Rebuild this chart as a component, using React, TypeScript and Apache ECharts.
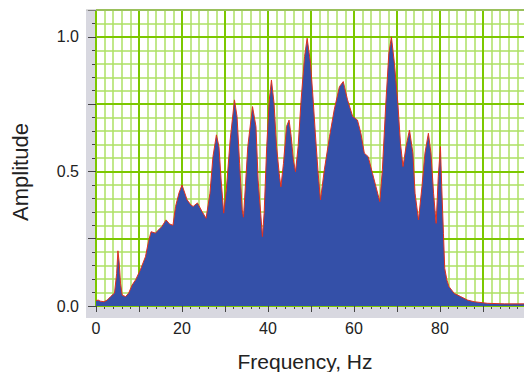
import React, { useEffect, useRef } from "react";
import * as echarts from "echarts";

const freqs = [
  0.0, 0.5, 1.0, 1.85, 2.6, 3.4, 4.3, 4.8, 5.1, 5.4, 5.7, 6.1, 6.9, 7.6, 8.4, 9.2,
  10.3, 11.5, 12.2, 12.8, 13.8, 14.5, 15.3, 16.3, 17.1, 17.9, 18.5, 19.3, 20.0,
  21.2, 22.1, 22.6, 23.6, 24.7, 25.6, 26.5, 27.2, 28.0, 28.6, 29.1, 29.7, 30.3,
  31.2, 32.2, 32.8, 33.4, 34.0, 34.3, 35.3, 36.4, 37.2, 37.7, 38.3, 38.7, 39.1,
  39.7, 40.3, 40.8, 41.4, 42.0, 42.6, 43.0, 43.6, 44.3, 44.9, 45.4, 45.9, 46.4,
  47.0, 47.7, 48.5, 49.1, 49.9, 50.5, 51.0, 51.6, 52.2, 53.1, 54.3, 55.4, 56.6,
  57.5, 58.5, 59.7, 60.8, 61.6, 62.4, 63.3, 64.3, 65.3, 66.0, 66.6, 67.4, 68.1,
  68.7, 69.4, 70.2, 70.8, 71.4, 72.1, 72.9, 73.7, 74.2, 75.0, 75.8, 76.5, 77.3,
  77.9, 78.5, 79.1, 79.6, 80.1, 80.4, 80.8, 81.1, 81.6, 82.1, 83.3, 84.8, 86.4,
  87.9, 91.0, 95.0, 100.0,
];

const amps = [
  0.02, 0.022, 0.018, 0.016, 0.022, 0.035, 0.048, 0.12, 0.205, 0.16, 0.085, 0.04,
  0.035, 0.048, 0.078, 0.097, 0.134, 0.183, 0.239, 0.276, 0.271, 0.282, 0.295,
  0.32, 0.305, 0.3, 0.37, 0.42, 0.45, 0.394, 0.375, 0.37, 0.383, 0.35, 0.326,
  0.419, 0.555, 0.636, 0.592, 0.468, 0.345, 0.431, 0.617, 0.766, 0.704, 0.53,
  0.357, 0.33, 0.592, 0.741, 0.667, 0.468, 0.345, 0.258, 0.345, 0.592, 0.766,
  0.84, 0.754, 0.592, 0.493, 0.443, 0.53, 0.667, 0.691, 0.629, 0.543, 0.499,
  0.592, 0.766, 0.927, 0.995, 0.902, 0.766, 0.643, 0.506, 0.394, 0.506, 0.629,
  0.729, 0.815, 0.834, 0.766, 0.704, 0.691, 0.642, 0.568, 0.555, 0.493, 0.431,
  0.388, 0.506, 0.753, 0.939, 1.0, 0.902, 0.753, 0.605, 0.518, 0.592, 0.654,
  0.568, 0.419, 0.32, 0.443, 0.568, 0.642, 0.568, 0.419, 0.307, 0.481, 0.592,
  0.443, 0.27, 0.14, 0.097, 0.072, 0.047, 0.035, 0.022, 0.016, 0.01, 0.008, 0.008,
];

const xLabelValues = [0, 20, 40, 60, 80];
const yLabelValues = [0, 0.5, 1.0];
const xTitle = "Frequency, Hz";
const yTitle = "Amplitude";

const FONT = "'Liberation Sans', Arial, Helvetica, sans-serif";

export default function App() {
  const ref = useRef<HTMLDivElement>(null);

  useEffect(() => {
    if (!ref.current) return;
    const chart = echarts.init(ref.current, null, { renderer: "svg" });
    const data = freqs.map((f, i) => [f, amps[i]]);
    const isIn = (v: number, arr: number[]) => arr.some((a) => Math.abs(a - v) < 1e-6);

    const minorGreen = "#ade063";
    const majorGreen = "#7cc800";
    const tickColor = "#444";

    chart.setOption({
      animation: false,
      backgroundColor: "#ffffff",
      grid: { left: 96, right: 0, top: 10, bottom: 66, containLabel: false },
      xAxis: [
        {
          type: "value",
          min: 0,
          max: 100,
          interval: 2,
          position: "bottom",
          offset: 5,
          z: 0,
          axisLine: { show: true, lineStyle: { color: tickColor, width: 1 } },
          axisTick: { show: true, length: 3, lineStyle: { color: tickColor } },
          axisLabel: { show: false },
          splitLine: { show: true, lineStyle: { color: minorGreen, width: 1.5 } },
        },
        {
          type: "value",
          min: 0,
          max: 100,
          interval: 10,
          position: "bottom",
          offset: 5,
          z: 1,
          axisLine: { show: false },
          axisTick: { show: true, length: 6, lineStyle: { color: tickColor } },
          axisLabel: {
            show: true,
            margin: 9,
            fontSize: 16,
            fontFamily: FONT,
            color: "#222",
            formatter: (v: number) => (isIn(v, xLabelValues) ? String(Math.round(v)) : ""),
          },
          splitLine: { show: true, lineStyle: { color: majorGreen, width: 2 } },
        },
      ],
      yAxis: [
        {
          type: "value",
          min: 0,
          max: 1.1,
          interval: 0.05,
          position: "left",
          offset: 1,
          z: 0,
          axisLine: { show: true, lineStyle: { color: tickColor, width: 1 } },
          axisTick: { show: true, length: 4, lineStyle: { color: tickColor } },
          axisLabel: { show: false },
          splitLine: { show: true, lineStyle: { color: minorGreen, width: 1.5 } },
        },
        {
          type: "value",
          min: 0,
          max: 1.1,
          interval: 0.25,
          position: "left",
          offset: 1,
          z: 1,
          axisLine: { show: false },
          axisTick: { show: true, length: 8, lineStyle: { color: tickColor } },
          axisLabel: {
            show: true,
            margin: 16,
            fontSize: 16,
            fontFamily: FONT,
            color: "#222",
            formatter: (v: number) => (isIn(v, yLabelValues) ? v.toFixed(1) : ""),
          },
          splitLine: { show: true, lineStyle: { color: majorGreen, width: 2 } },
        },
      ],
      series: [
        {
          type: "line",
          xAxisIndex: 0,
          yAxisIndex: 0,
          data,
          z: 5,
          symbol: "none",
          smooth: false,
          lineStyle: { color: "#e0301e", width: 1 },
          areaStyle: { color: "#3450a8", opacity: 1 },
        },
      ],
      graphic: [
        {
          type: "rect",
          z: -1,
          silent: true,
          shape: { x: 86, y: 10, width: 9, height: 308 },
          style: { fill: "#d8d8e0" },
        },
        {
          type: "rect",
          z: -1,
          silent: true,
          shape: { x: 86, y: 306, width: 450, height: 12 },
          style: { fill: "#d8d8e0" },
        },
        {
          type: "line",
          z: 10,
          silent: true,
          shape: { x1: 86, y1: 10, x2: 540, y2: 10 },
          style: { stroke: "#b8b8b8", lineWidth: 1 },
        },
        {
          type: "text",
          z: 10,
          silent: true,
          x: 305,
          y: 361,
          style: {
            text: xTitle,
            fontSize: 21,
            fontFamily: FONT,
            fill: "#222",
            align: "center",
            verticalAlign: "middle",
          },
        },
        {
          type: "text",
          z: 10,
          silent: true,
          x: 20,
          y: 172,
          rotation: Math.PI / 2,
          style: {
            text: yTitle,
            fontSize: 22,
            fontFamily: FONT,
            fill: "#222",
            align: "center",
            verticalAlign: "middle",
          },
        },
      ],
    });

    return () => {
      chart.dispose();
    };
  }, []);

  return (
    <div
      style={{
        position: "fixed",
        left: 0,
        top: 0,
        width: 524,
        height: 372,
        overflow: "hidden",
        background: "#fff",
      }}
    >
      <div ref={ref} style={{ position: "absolute", left: 0, top: 0, width: 529, height: 372 }} />
    </div>
  );
}
